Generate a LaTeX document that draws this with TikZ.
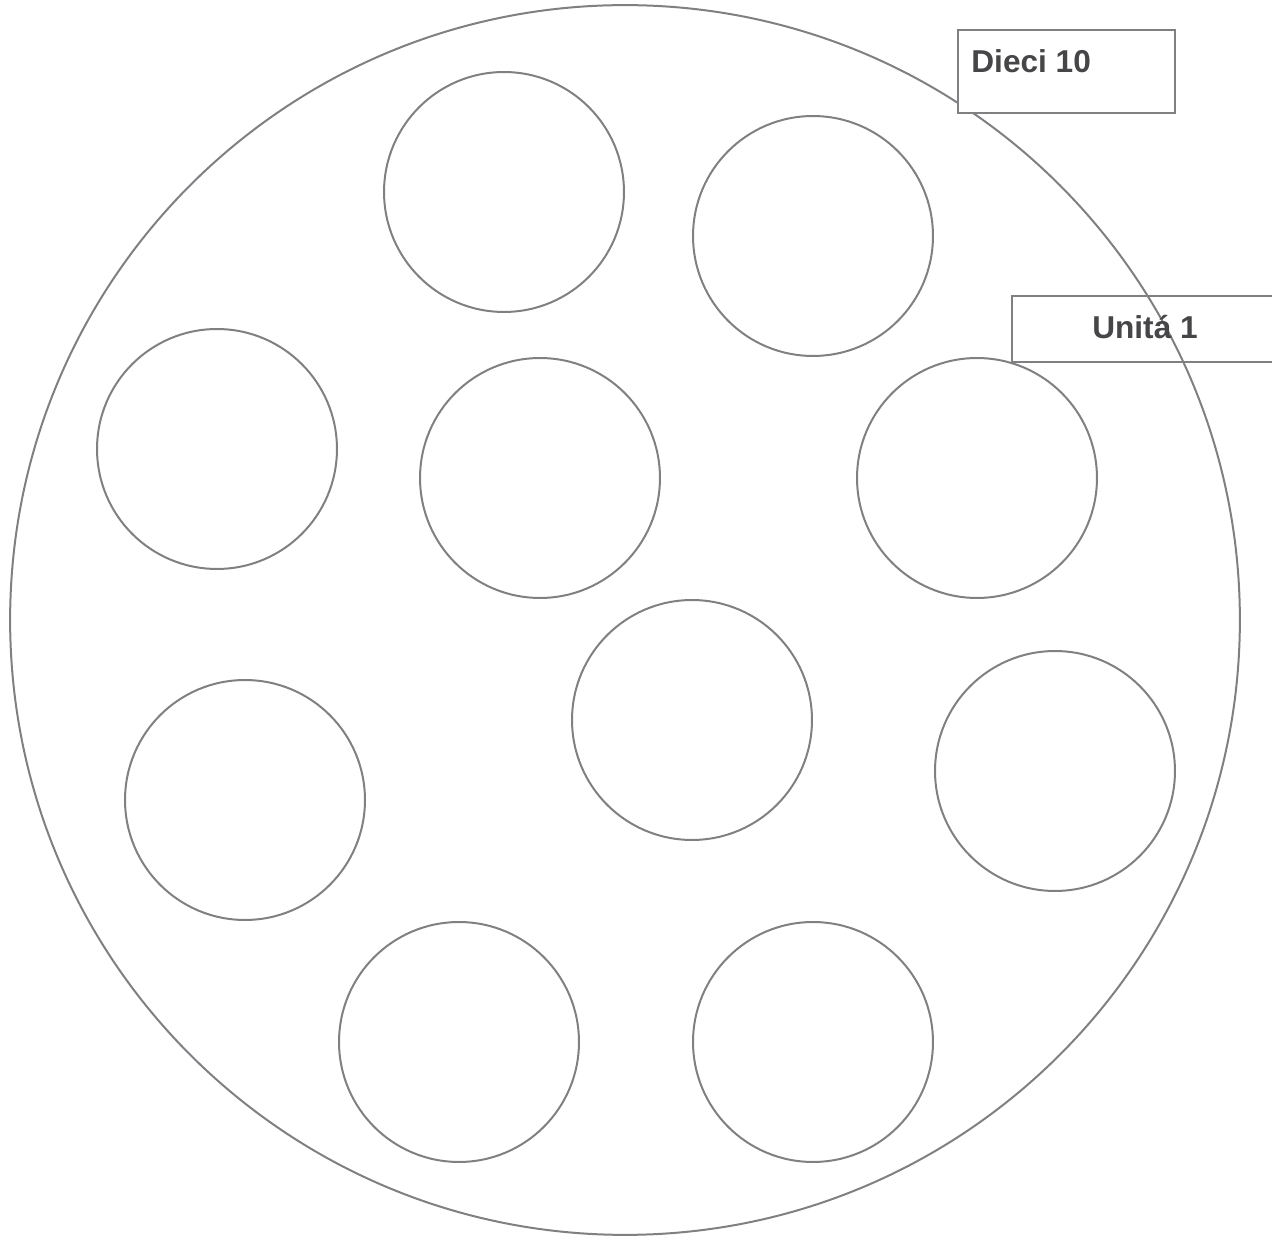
\documentclass[tikz,border=0pt]{standalone}
\usepackage{fontspec}
\setmainfont{Liberation Sans}
\usetikzlibrary{positioning}
\definecolor{plategray}{RGB}{128,128,131}
\definecolor{textgray}{RGB}{70,70,72}

\begin{document}
\begin{tikzpicture}[x=0.02cm,y=-0.02cm,
    plate/.style={circle,draw=plategray,line width=0.04cm,inner sep=0pt},
    token/.style={circle,draw=plategray,line width=0.04cm,inner sep=0pt,minimum size=4.8cm},
    labelbox/.style={rectangle,draw=plategray,line width=0.04cm,inner sep=0pt},
    labeltext/.style={inner sep=0pt,text=textgray,font=\fontsize{18}{22}\selectfont\bfseries}]
    \useasboundingbox (0,0) rectangle (1272,1239);
    % piatto grande
    \node[plate,minimum size=24.6cm] (piatto) at (625,620) {};
    % dieci gettoni
    \foreach \x/\y [count=\i] in {504/192,813/236,217/449,540/478,977/478,
                                  692/720,1055/771,245/800,459/1042,813/1042}{
        \node[token] (g\i) at (\x,\y) {};
    }
    % etichette
    \node[labelbox,fill=white,minimum width=4.34cm,minimum height=1.66cm] (dieci) at (1066.5,71.5) {};
    \node[labeltext,anchor=west] (diecitxt) at ([xshift=0.28cm,yshift=0.2cm]dieci.west) {Dieci 10};
    \node[labelbox,minimum width=5.6cm,minimum height=1.32cm] (unita) at (1152,329) {};
    \node[labeltext] (unitatxt) at (1145,327) {Unitá 1};
\end{tikzpicture}
\end{document}
